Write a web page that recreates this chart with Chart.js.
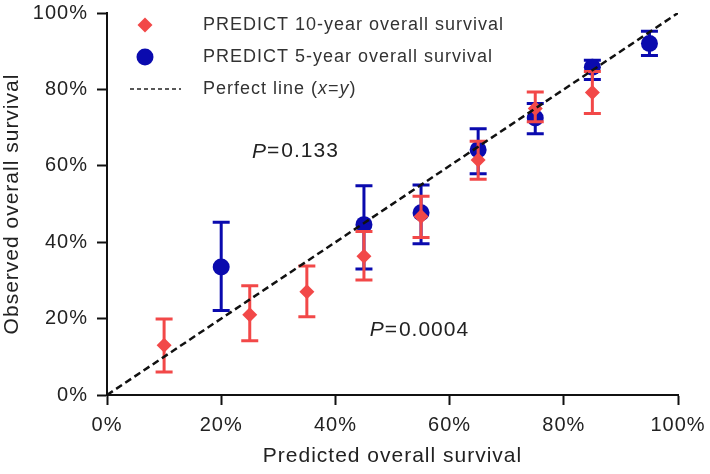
<!DOCTYPE html>
<html>
<head>
<meta charset="utf-8">
<script src="https://cdn.jsdelivr.net/npm/chart.js@4.4.0/dist/chart.umd.min.js"></script>
<style>
  html, body { margin: 0; padding: 0; background: #fff; }
  #wrap { width: 710px; height: 474px; }
</style>
</head>
<body>
<div id="wrap"><canvas id="calChart" width="710" height="474"></canvas></div>
<script>
// predicted survival (%) and observed survival with 95% CI
const pred10 = [10, 25, 35, 45, 55, 65, 75, 85];
const obs10  = [13, 21, 27, 36.3, 46.7, 61.5, 75, 79.2];
const lo10   = [6, 14.2, 20.5, 30.1, 41.2, 56.5, 71.5, 73.7];
const hi10   = [19.9, 28.6, 33.8, 42.8, 52, 66.4, 79.3, 84.7];

const pred5 = [20, 45, 55, 65, 75, 85, 95];
const obs5  = [33.5, 44.6, 47.7, 64.2, 72.5, 85.8, 92];
const lo5   = [22.1, 33, 39.6, 57.9, 68.4, 82.6, 88.9];
const hi5   = [45.2, 54.8, 55, 69.7, 76.3, 87.6, 95.2];

const perfect = [0, 100];
const ticks = [0, 20, 40, 60, 80, 100];

const RED = '#f24848';
const BLUE = '#0a0aae';
const FONT = '"Liberation Sans", Arial, Helvetica, sans-serif';

// the original lettering is a bit wider than Arial
const spacing = {
  id: 'spacing',
  beforeInit(chart) { chart.ctx.letterSpacing = '1px'; },
  beforeDraw(chart) { chart.ctx.letterSpacing = '1px'; }
};

// Draw error bars before each scatter dataset
const errorBars = {
  id: 'errorBars',
  beforeDatasetDraw(chart, args) {
    const ds = chart.data.datasets[args.index];
    if (!ds.lo) return;
    const ctx = chart.ctx;
    const xs = chart.scales.x, ys = chart.scales.y;
    ctx.save();
    ctx.strokeStyle = ds.borderColor;
    ctx.lineWidth = 3;
    ds.data.forEach((p, i) => {
      const px = xs.getPixelForValue(p.x);
      const top = ys.getPixelForValue(ds.hi[i]);
      const bot = ys.getPixelForValue(ds.lo[i]);
      ctx.beginPath();
      ctx.moveTo(px, top); ctx.lineTo(px, bot);
      ctx.moveTo(px - 8.5, top); ctx.lineTo(px + 8.5, top);
      ctx.moveTo(px - 8.5, bot); ctx.lineTo(px + 8.5, bot);
      ctx.stroke();
    });
    ctx.restore();
  }
};

// Legend inside the plot, top-left
const innerLegend = {
  id: 'innerLegend',
  afterDraw(chart) {
    const ctx = chart.ctx;
    ctx.save();
    ctx.letterSpacing = '1px';
    ctx.font = '18px ' + FONT;
    ctx.textBaseline = 'middle';
    chart.data.datasets.forEach((ds, i) => {
      const y = 25 + i * 32;
      const mx = 145;
      if (ds.type === 'line') {
        ctx.strokeStyle = '#222';
        ctx.lineWidth = 1.5;
        ctx.setLineDash([4, 3]);
        ctx.beginPath(); ctx.moveTo(130, y); ctx.lineTo(181, y); ctx.stroke();
        ctx.setLineDash([]);
      } else if (ds.pointStyle === 'rectRot') {
        ctx.fillStyle = ds.backgroundColor;
        ctx.beginPath();
        ctx.moveTo(mx, y - 7.5); ctx.lineTo(mx + 7.5, y); ctx.lineTo(mx, y + 7.5); ctx.lineTo(mx - 7.5, y);
        ctx.closePath(); ctx.fill();
      } else {
        ctx.fillStyle = ds.backgroundColor;
        ctx.beginPath(); ctx.arc(mx, y, 8.5, 0, Math.PI * 2); ctx.fill();
      }
      ctx.fillStyle = '#333';
      if (ds.type === 'line') {
        // italic x and y
        let tx = 203;
        const parts = [['Perfect line (', false], ['x', true], ['=', false], ['y', true], [')', false]];
        parts.forEach(([t, it]) => {
          ctx.font = (it ? 'italic ' : '') + '18px ' + FONT;
          ctx.fillText(t, tx, y);
          tx += ctx.measureText(t).width;
        });
      } else {
        ctx.fillText(ds.label, 203, y);
      }
    });
    ctx.restore();
  }
};

// P-value annotations
const pNotes = [
  { text: '0.133', x: 25.4, y: 63.7 },
  { text: '0.0004', x: 46, y: 17 }
];
const pLabels = {
  id: 'pLabels',
  afterDraw(chart) {
    const ctx = chart.ctx;
    const xs = chart.scales.x, ys = chart.scales.y;
    ctx.save();
    ctx.letterSpacing = '1px';
    ctx.fillStyle = '#222';
    ctx.textBaseline = 'middle';
    pNotes.forEach(n => {
      let tx = xs.getPixelForValue(n.x);
      const ty = ys.getPixelForValue(n.y);
      ctx.font = 'italic 21px ' + FONT;
      ctx.fillText('P', tx, ty);
      tx += ctx.measureText('P').width;
      ctx.font = '21px ' + FONT;
      ctx.fillText('=', tx, ty);
      tx += ctx.measureText('=').width + 1;
      ctx.fillText(n.text, tx, ty);
    });
    ctx.restore();
  }
};

const axisCommon = {
  type: 'linear',
  min: 0,
  max: 100,
  border: { color: '#111', width: 2 },
  grid: { display: true, drawOnChartArea: false, drawTicks: true, tickLength: 10, tickWidth: 2, color: '#111', tickColor: '#111' },
  afterBuildTicks(axis) { axis.ticks = ticks.map(v => ({ value: v })); },
  ticks: {
    color: '#222',
    font: { family: FONT, size: 20 },
    callback: v => v + '%'
  },
  title: { display: true, color: '#222', font: { family: FONT, size: 21 } }
};

new Chart(document.getElementById('calChart'), {
  type: 'scatter',
  data: {
    datasets: [
      {
        label: 'PREDICT 10-year overall survival',
        data: pred10.map((x, i) => ({ x: x, y: obs10[i] })),
        lo: lo10, hi: hi10,
        pointStyle: 'rectRot',
        pointRadius: 7.5,
        backgroundColor: RED,
        borderColor: RED,
        borderWidth: 0,
        order: 1
      },
      {
        label: 'PREDICT 5-year overall survival',
        data: pred5.map((x, i) => ({ x: x, y: obs5[i] })),
        lo: lo5, hi: hi5,
        pointStyle: 'circle',
        pointRadius: 8.5,
        backgroundColor: BLUE,
        borderColor: BLUE,
        borderWidth: 0,
        order: 2
      },
      {
        type: 'line',
        label: 'Perfect line (x=y)',
        data: perfect.map(v => ({ x: v, y: v })),
        borderColor: '#111',
        borderWidth: 2.5,
        borderDash: [7, 4],
        pointRadius: 0,
        fill: false,
        order: 0
      }
    ]
  },
  options: {
    responsive: false,
    animation: false,
    layout: { padding: { top: 13, right: 32, left: 0, bottom: 0 } },
    plugins: {
      legend: { display: false },
      tooltip: { enabled: false }
    },
    scales: {
      x: Object.assign({}, axisCommon, {
        title: Object.assign({}, axisCommon.title, { text: 'Predicted overall survival', padding: { top: 0, bottom: 5 } }),
        ticks: Object.assign({}, axisCommon.ticks, { padding: 8 }),
        afterFit(axis) { axis.height = 474 - 395; axis.paddingRight = 0; }
      }),
      y: Object.assign({}, axisCommon, {
        title: Object.assign({}, axisCommon.title, { text: 'Observed overall survival', padding: { top: 0, bottom: 0 } }),
        ticks: Object.assign({}, axisCommon.ticks, { padding: 9 }),
        afterFit(axis) { axis.width = 107; axis.paddingTop = 0; }
      })
    }
  },
  plugins: [spacing, errorBars, innerLegend, pLabels]
});
</script>
</body>
</html>
